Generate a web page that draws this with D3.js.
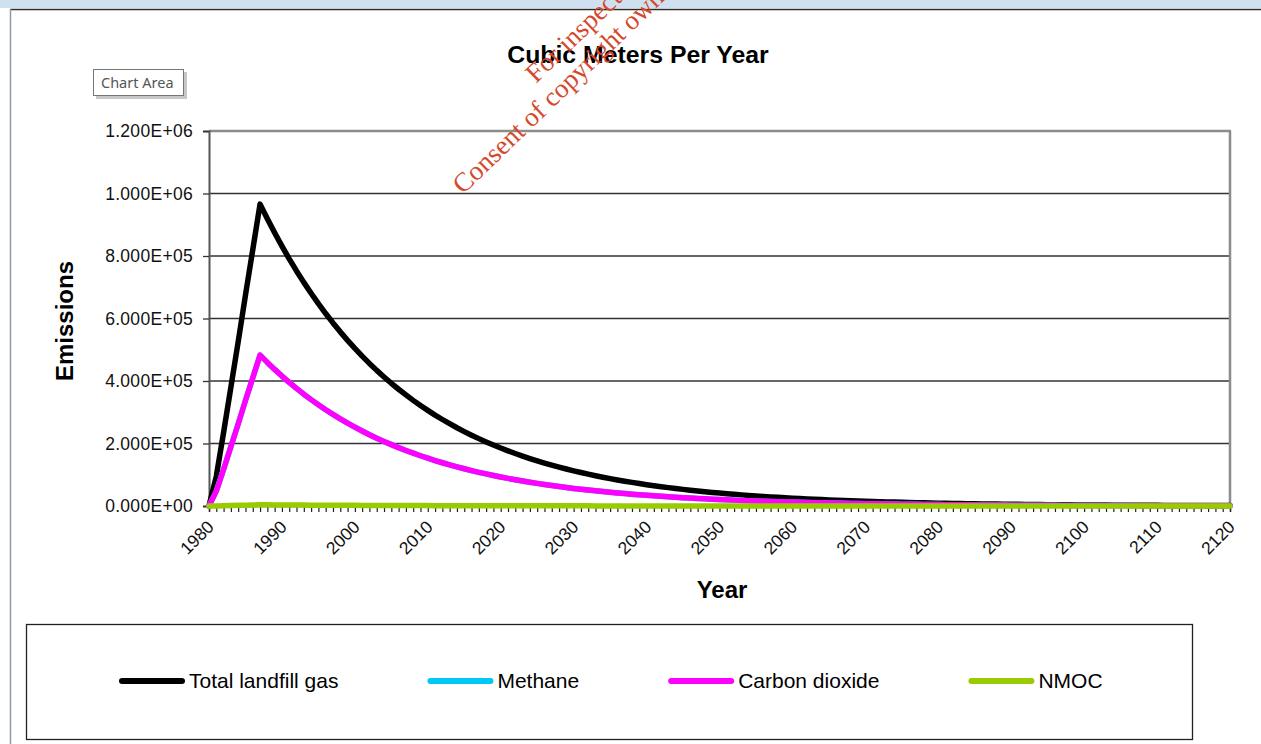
<!DOCTYPE html>
<html>
<head>
<meta charset="utf-8">
<script src="https://cdn.jsdelivr.net/npm/d3@7/dist/d3.min.js"></script>
<style>
  html, body { margin: 0; padding: 0; background: #fff; }
  svg { display: block; }
</style>
</head>
<body>
<script>
// ---------------- DATA ----------------
const years = d3.range(1980, 2121);

const totalLandfillGas = [
  0, 95000, 235000, 380000, 525000, 675000, 820000, 966000, 918900, 874100,
  831500, 790900, 752300, 715600, 680700, 647500, 615900, 585900, 557300, 530100,
  504300, 479700, 456300, 434000, 412900, 392700, 373600, 355400, 338000, 321500,
  305900, 290900, 276800, 263300, 250400, 238200, 226600, 215600, 205100, 195100,
  185500, 176500, 167900, 159700, 151900, 144500, 137500, 130800, 124400, 118300,
  112600, 107100, 101900, 96900, 92200, 87700, 83400, 79300, 75500, 71800,
  68300, 65000, 61800, 58800, 55900, 53200, 50600, 48100, 45800, 43500,
  41400, 39400, 37500, 35600, 33900, 32300, 30700, 29200, 27800, 26400,
  25100, 23900, 22700, 21600, 20600, 19600, 18600, 17700, 16800, 16000,
  15200, 14500, 13800, 13100, 12500, 11900, 11300, 10700, 10200, 9700,
  9200, 8800, 8400, 8000, 7600, 7200, 6800, 6500, 6200, 5900,
  5600, 5300, 5100, 4800, 4600, 4400, 4100, 3900, 3800, 3600,
  3400, 3200, 3100, 2900, 2800, 2700, 2500, 2400, 2300, 2200,
  2100, 2000, 1900, 1800, 1700, 1600, 1500, 1500, 1400, 1300,
  1300
];

const methane = [
  0, 47500, 117500, 190000, 262500, 337500, 410000, 483000, 459500, 437100,
  415800, 395500, 376200, 357800, 340400, 323800, 308000, 293000, 278700, 265100,
  252200, 239900, 228200, 217000, 206500, 196400, 186800, 177700, 169000, 160800,
  153000, 145500, 138400, 131700, 125200, 119100, 113300, 107800, 102600, 97600,
  92800, 88300, 84000, 79900, 76000, 72300, 68800, 65400, 62200, 59200,
  56300, 53600, 51000, 48500, 46100, 43900, 41700, 39700, 37800, 35900,
  34200, 32500, 30900, 29400, 28000, 26600, 25300, 24100, 22900, 21800,
  20700, 19700, 18800, 17800, 17000, 16200, 15400, 14600, 13900, 13200,
  12600, 12000, 11400, 10800, 10300, 9800, 9300, 8900, 8400, 8000,
  7600, 7300, 6900, 6600, 6300, 6000, 5700, 5400, 5100, 4900,
  4600, 4400, 4200, 4000, 3800, 3600, 3400, 3300, 3100, 3000,
  2800, 2700, 2600, 2400, 2300, 2200, 2100, 2000, 1900, 1800,
  1700, 1600, 1600, 1500, 1400, 1400, 1300, 1200, 1200, 1100,
  1100, 1000, 1000, 900, 900, 800, 800, 800, 700, 700,
  700
];

const carbonDioxide = [
  0, 47500, 117500, 190000, 262500, 337500, 410000, 483000, 459500, 437100,
  415800, 395500, 376200, 357800, 340400, 323800, 308000, 293000, 278700, 265100,
  252200, 239900, 228200, 217000, 206500, 196400, 186800, 177700, 169000, 160800,
  153000, 145500, 138400, 131700, 125200, 119100, 113300, 107800, 102600, 97600,
  92800, 88300, 84000, 79900, 76000, 72300, 68800, 65400, 62200, 59200,
  56300, 53600, 51000, 48500, 46100, 43900, 41700, 39700, 37800, 35900,
  34200, 32500, 30900, 29400, 28000, 26600, 25300, 24100, 22900, 21800,
  20700, 19700, 18800, 17800, 17000, 16200, 15400, 14600, 13900, 13200,
  12600, 12000, 11400, 10800, 10300, 9800, 9300, 8900, 8400, 8000,
  7600, 7300, 6900, 6600, 6300, 6000, 5700, 5400, 5100, 4900,
  4600, 4400, 4200, 4000, 3800, 3600, 3400, 3300, 3100, 3000,
  2800, 2700, 2600, 2400, 2300, 2200, 2100, 2000, 1900, 1800,
  1700, 1600, 1600, 1500, 1400, 1400, 1300, 1200, 1200, 1100,
  1100, 1000, 1000, 900, 900, 800, 800, 800, 700, 700,
  700
];

const nmoc = [
  0, 380, 940, 1520, 2100, 2700, 3280, 3860, 3680, 3500,
  3330, 3160, 3010, 2860, 2720, 2590, 2460, 2340, 2230, 2120,
  2020, 1920, 1830, 1740, 1650, 1570, 1490, 1420, 1350, 1290,
  1220, 1160, 1110, 1050, 1000, 950, 910, 860, 820, 780,
  740, 710, 670, 640, 610, 580, 550, 520, 500, 470,
  450, 430, 410, 390, 370, 350, 330, 320, 300, 290,
  270, 260, 250, 240, 220, 210, 200, 190, 180, 170,
  170, 160, 150, 140, 140, 130, 120, 120, 110, 110,
  100, 100, 90, 90, 80, 80, 70, 70, 70, 60,
  60, 60, 60, 50, 50, 50, 50, 40, 40, 40,
  40, 40, 30, 30, 30, 30, 30, 30, 20, 20,
  20, 20, 20, 20, 20, 20, 20, 20, 10, 10,
  10, 10, 10, 10, 10, 10, 10, 10, 10, 10,
  10, 10, 10, 10, 10, 10, 10, 10, 10, 10,
  10
];

const seriesNames = ["Total landfill gas", "Methane", "Carbon dioxide", "NMOC"];
const seriesColors = ["#000000", "#00c8f5", "#ff00ff", "#99cc00"];
const yTickValues = [0, 200000, 400000, 600000, 800000, 1000000, 1200000];
const yTickLabels = ["0.000E+00", "2.000E+05", "4.000E+05", "6.000E+05", "8.000E+05", "1.000E+06", "1.200E+06"];
const xLabelYears = [1980, 1990, 2000, 2010, 2020, 2030, 2040, 2050, 2060, 2070, 2080, 2090, 2100, 2110, 2120];
const chartTitle = "Cubic Meters Per Year";
const xTitle = "Year";
const yTitle = "Emissions";
const watermark = ["For inspection purposes only.", "Consent of copyright owner required for any other use."];

// ---------------- LAYOUT ----------------
const W = 1261, H = 744;
const plot = { left: 209, right: 1230, top: 131, bottom: 506 };
const FONT = "Arial, 'Liberation Sans', sans-serif";

const svg = d3.select("body").append("svg").attr("width", W).attr("height", H);

// window frame
svg.append("rect").attr("x", 0).attr("y", 0).attr("width", W).attr("height", H).attr("fill", "#fff");
svg.append("rect").attr("x", 0).attr("y", 0).attr("width", W).attr("height", 8).attr("fill", "#cfe1f0");
svg.append("line").attr("x1", 10).attr("x2", W).attr("y1", 9.5).attr("y2", 9.5).attr("stroke", "#2a2a2a").attr("stroke-width", 1.5);
svg.append("line").attr("x1", 10.5).attr("x2", 10.5).attr("y1", 9).attr("y2", H).attr("stroke", "#8a9aa8").attr("stroke-width", 1.5);

const x = d3.scaleLinear().domain([1980, 2120]).range([plot.left, plot.right]);
const y = d3.scaleLinear().domain([0, 1200000]).range([plot.bottom, plot.top]);

// gridlines
svg.append("g").selectAll("line").data(yTickValues.filter(d => d > 0 && d < 1200000)).join("line")
  .attr("x1", plot.left).attr("x2", plot.right)
  .attr("y1", d => y(d)).attr("y2", d => y(d))
  .attr("stroke", "#333").attr("stroke-width", 1.4);

// plot border top/right
svg.append("line").attr("x1", plot.left).attr("x2", plot.right + 1).attr("y1", plot.top).attr("y2", plot.top)
  .attr("stroke", "#8c8c8c").attr("stroke-width", 2.5);
svg.append("line").attr("x1", plot.right).attr("x2", plot.right).attr("y1", plot.top).attr("y2", plot.bottom)
  .attr("stroke", "#8c8c8c").attr("stroke-width", 2.5);

// y axis
const yAxis = svg.append("g").attr("transform", `translate(${plot.left},0)`)
  .call(d3.axisLeft(y).tickValues(yTickValues).tickSize(6).tickPadding(10)
    .tickFormat((d, i) => yTickLabels[i]));
yAxis.select(".domain").attr("stroke", "#555").attr("stroke-width", 2);
yAxis.selectAll(".tick line").attr("stroke", "#333").attr("stroke-width", 1.3);
yAxis.selectAll(".tick text").attr("font-family", FONT).attr("font-size", 17.5)
  .attr("fill", "#111").attr("letter-spacing", 0.3);

// x axis
const xAxis = svg.append("g").attr("transform", `translate(0,${plot.bottom})`)
  .call(d3.axisBottom(x).tickValues(years).tickSize(6).tickFormat(""));
xAxis.select(".domain").attr("stroke", "#555").attr("stroke-width", 1.5);
xAxis.selectAll(".tick line").attr("stroke", "#222").attr("stroke-width", 1.2);

svg.append("g").selectAll("text").data(xLabelYears).join("text")
  .attr("transform", d => `translate(${x(d) + 6},${plot.bottom + 22}) rotate(-45)`)
  .attr("text-anchor", "end")
  .attr("font-family", FONT).attr("font-size", 17.5).attr("fill", "#111")
  .text(d => d);

// lines
const allSeries = [totalLandfillGas, methane, carbonDioxide, nmoc];
const line = d3.line().x((d, i) => x(years[i])).y(d => y(d));
svg.append("g").selectAll("path").data(allSeries).join("path")
  .attr("d", d => line(d))
  .attr("fill", "none")
  .attr("stroke", (d, i) => seriesColors[i])
  .attr("stroke-width", 5.5)
  .attr("stroke-linejoin", "round")
  .attr("stroke-linecap", "round");

// titles
svg.append("text").attr("x", 638).attr("y", 63).attr("text-anchor", "middle")
  .attr("font-family", FONT).attr("font-weight", "bold").attr("font-size", 24.8).attr("fill", "#000")
  .text(chartTitle);
svg.append("text").attr("x", 722).attr("y", 598).attr("text-anchor", "middle")
  .attr("font-family", FONT).attr("font-weight", "bold").attr("font-size", 24).attr("fill", "#000")
  .text(xTitle);
svg.append("text").attr("transform", "translate(73,321) rotate(-90)").attr("text-anchor", "middle")
  .attr("font-family", FONT).attr("font-weight", "bold").attr("font-size", 24).attr("fill", "#000")
  .text(yTitle);

// legend
const legendBox = { x: 26, y: 624, w: 1166, h: 115 };
svg.append("rect").attr("x", legendBox.x + 0.5).attr("y", legendBox.y + 0.5)
  .attr("width", legendBox.w).attr("height", legendBox.h)
  .attr("fill", "#fff").attr("stroke", "#222").attr("stroke-width", 1.3);
const legendY = 681;
const lg = svg.append("g");
const items = lg.selectAll("g").data(seriesNames).join("g");
items.append("text").attr("font-family", FONT).attr("font-size", 21).attr("fill", "#000")
  .attr("dy", "0.35em").text(d => d);
const lineLen = 60, lineGap = 7, itemGap = 92;
let widths = [];
items.select("text").each(function () { widths.push(this.getComputedTextLength()); });
let cx = 122;
items.each(function (d, i) {
  const g = d3.select(this);
  g.attr("transform", `translate(${cx},${legendY})`);
  g.insert("line", "text").attr("x1", 0).attr("x2", lineLen).attr("y1", 0).attr("y2", 0)
    .attr("stroke", seriesColors[i]).attr("stroke-width", 6).attr("stroke-linecap", "round");
  g.select("text").attr("x", lineLen + lineGap);
  cx += lineLen + lineGap + widths[i] + itemGap;
});

// tooltip "Chart Area"
const tip = svg.append("g");
tip.append("rect").attr("x", 96).attr("y", 72).attr("width", 91).attr("height", 27).attr("fill", "#c8c8c8");
tip.append("rect").attr("x", 93.5).attr("y", 69.5).attr("width", 90).attr("height", 26)
  .attr("fill", "#fff").attr("stroke", "#767676").attr("stroke-width", 1);
tip.append("text").attr("x", 101).attr("y", 88).attr("font-family", "'Noto Sans', 'Open Sans', sans-serif")
  .attr("font-size", 14.5).attr("fill", "#555").text("Chart Area");

// watermark
const wm = svg.append("g").attr("font-family", "'Liberation Serif', 'Times New Roman', serif")
  .attr("font-size", 27).attr("fill", "#d4482c");
wm.append("text").attr("transform", "translate(536,84) rotate(-44)").text(watermark[0]);
wm.append("text").attr("transform", "translate(463,195) rotate(-44)").text(watermark[1]);
</script>
</body>
</html>
